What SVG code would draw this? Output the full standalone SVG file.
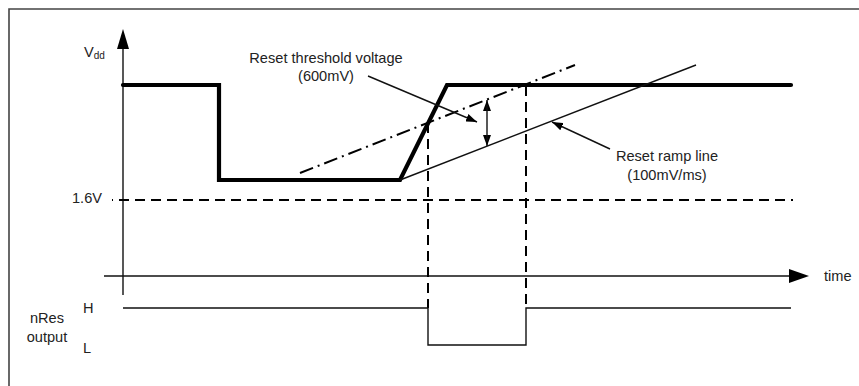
<svg xmlns="http://www.w3.org/2000/svg" width="859" height="386" viewBox="0 0 859 386">
<style>
text{font-family:"Liberation Sans",Arial,sans-serif;font-size:14.6px;fill:#222}
.thin{fill:none;stroke:#111;stroke-width:1.4}
.thick{fill:none;stroke:#000;stroke-width:4.2;stroke-linecap:round;stroke-linejoin:miter}
.dash{fill:none;stroke:#000;stroke-width:2;stroke-dasharray:10 6}
.dashdot{fill:none;stroke:#000;stroke-width:2;stroke-dasharray:14 5 2 5}
</style>
<defs>
<marker id="ah" viewBox="0 0 11 8" refX="11" refY="4" markerWidth="11" markerHeight="8" markerUnits="userSpaceOnUse" orient="auto">
<path d="M0,0 L11,4 L0,8 Z" fill="#000"/>
</marker>
</defs>
<rect width="859" height="386" fill="#fff"/>
<g id="frame">
<path d="M9,386 V9 H859" fill="none" stroke="#444" stroke-width="1.6"/>
</g>
<g id="axes">
<line class="thin" x1="123" y1="48" x2="123" y2="295"/>
<polygon points="123,29 117,49 129,49" fill="#000"/>
<line class="thin" x1="104" y1="276" x2="790" y2="276"/>
<polygon points="809,276 789,269 789,283" fill="#000"/>
</g>
<g id="levels">
<line class="dash" x1="112" y1="200" x2="793" y2="200" stroke-dashoffset="9"/>
<line class="dash" x1="428" y1="123" x2="428" y2="308"/>
<line class="dash" x1="526" y1="86" x2="526" y2="308"/>
</g>
<g id="vdd">
<polyline class="thick" points="123,85 219,85 219,180 400,180 447,85 791,85"/>
</g>
<g id="ramps">
<line class="dashdot" x1="300" y1="173" x2="575" y2="65"/>
<line class="thin" x1="400" y1="180" x2="696" y2="65"/>
</g>
<g id="nres">
<polyline class="thin" points="123,308 428,308 428,345 526,345 526,308 791,308"/>
</g>
<g id="connectors">
<line class="thin" x1="487" y1="109" x2="487" y2="100" marker-end="url(#ah)"/>
<line class="thin" x1="487" y1="137" x2="487" y2="146" marker-end="url(#ah)"/>
<line class="thin" x1="487" y1="105" x2="487" y2="141"/>
<line class="thin" x1="368" y1="76" x2="477" y2="122" marker-end="url(#ah)"/>
<line class="thin" x1="610" y1="149" x2="552" y2="122" marker-end="url(#ah)"/>
</g>
<g id="labels">
<text x="84" y="57">V<tspan font-size="10" dy="2">dd</tspan></text>
<text x="326" y="63" text-anchor="middle">Reset threshold voltage</text>
<text x="326" y="81" text-anchor="middle">(600mV)</text>
<text x="667" y="161" text-anchor="middle">Reset ramp line</text>
<text x="667" y="180" text-anchor="middle">(100mV/ms)</text>
<text x="72" y="203">1.6V</text>
<text x="824" y="281">time</text>
<text x="83" y="313">H</text>
<text x="83" y="353">L</text>
<text x="47" y="323" text-anchor="middle">nRes</text>
<text x="47" y="342" text-anchor="middle">output</text>
</g>
</svg>
